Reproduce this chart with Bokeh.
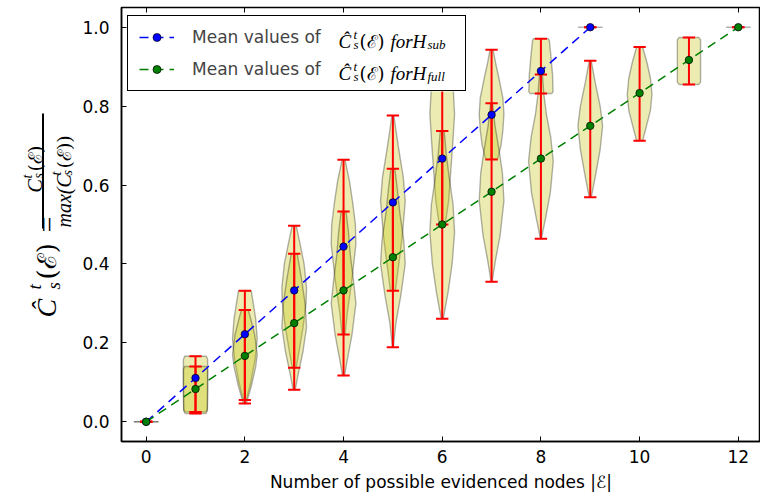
import numpy as np
from bokeh.plotting import figure
from bokeh.layouts import row
from bokeh.models import (Range1d, FixedTicker, LinearAxis, Legend, LegendItem,
                          Label, BoxAnnotation, NumeralTickFormatter)
from bokeh.embed import file_html
from bokeh.resources import INLINE

# ---------------- data ----------------
sub_x = [0, 1, 2, 3, 4, 5, 6, 7, 8, 9]
sub_mean = [0.0, 0.111, 0.222, 0.333, 0.444, 0.556, 0.667, 0.778, 0.889, 1.0]
sub_min = [0.0, 0.025, 0.055, 0.137, 0.221, 0.332, 0.500, 0.665, 0.832, 1.0]
sub_max = [0.0, 0.166, 0.332, 0.497, 0.664, 0.776, 0.940, 0.943, 0.971, 1.0]

full_x = [0, 1, 2, 3, 4, 5, 6, 7, 8, 9, 10, 11, 12]
full_mean = [0.0, 0.083, 0.167, 0.25, 0.333, 0.417, 0.5, 0.583, 0.667, 0.75, 0.833, 0.917, 1.0]
full_min = [0.0, 0.021, 0.046, 0.081, 0.117, 0.189, 0.261, 0.355, 0.464, 0.569, 0.712, 0.855, 1.0]
full_max = [0.0, 0.140, 0.283, 0.426, 0.533, 0.641, 0.737, 0.807, 0.880, 0.915, 0.950, 0.974, 1.0]

sub_prof_y = [
    [0.0, 0.0],
    [0.025, 0.032, 0.10, 0.158, 0.166],
    [0.055, 0.10, 0.16, 0.21, 0.26, 0.30, 0.332],
    [0.137, 0.18, 0.24, 0.30, 0.34, 0.40, 0.45, 0.497],
    [0.221, 0.28, 0.36, 0.45, 0.50, 0.56, 0.61, 0.664],
    [0.332, 0.40, 0.47, 0.56, 0.62, 0.69, 0.74, 0.776],
    [0.50, 0.56, 0.63, 0.70, 0.78, 0.85, 0.90, 0.94],
    [0.665, 0.70, 0.74, 0.78, 0.82, 0.87, 0.91, 0.943],
    [0.832, 0.837, 0.88, 0.93, 0.966, 0.971],
    [1.0, 1.0],
]
sub_prof_w = [
    [0.25, 0.25],
    [0.21, 0.24, 0.245, 0.245, 0.22],
    [0.03, 0.12, 0.21, 0.25, 0.22, 0.17, 0.13],
    [0.04, 0.10, 0.18, 0.24, 0.25, 0.20, 0.12, 0.04],
    [0.03, 0.08, 0.17, 0.25, 0.24, 0.18, 0.12, 0.03],
    [0.05, 0.12, 0.19, 0.25, 0.21, 0.12, 0.06, 0.02],
    [0.06, 0.13, 0.17, 0.21, 0.25, 0.22, 0.14, 0.04],
    [0.12, 0.19, 0.23, 0.25, 0.23, 0.15, 0.08, 0.03],
    [0.22, 0.245, 0.235, 0.20, 0.17, 0.15],
    [0.25, 0.25],
]
full_prof_y = [
    [0.0, 0.0],
    [0.021, 0.028, 0.08, 0.133, 0.140],
    [0.046, 0.09, 0.14, 0.17, 0.22, 0.26, 0.283],
    [0.081, 0.12, 0.18, 0.24, 0.30, 0.36, 0.426],
    [0.117, 0.16, 0.22, 0.30, 0.36, 0.42, 0.48, 0.533],
    [0.189, 0.25, 0.32, 0.40, 0.46, 0.53, 0.59, 0.641],
    [0.261, 0.33, 0.40, 0.48, 0.55, 0.62, 0.68, 0.737],
    [0.355, 0.41, 0.47, 0.56, 0.63, 0.69, 0.75, 0.807],
    [0.464, 0.52, 0.58, 0.66, 0.72, 0.78, 0.83, 0.88],
    [0.569, 0.62, 0.69, 0.75, 0.80, 0.86, 0.915],
    [0.712, 0.75, 0.79, 0.83, 0.87, 0.91, 0.95],
    [0.855, 0.861, 0.968, 0.974],
    [1.0, 1.0],
]
full_prof_w = [
    [0.25, 0.25],
    [0.21, 0.24, 0.245, 0.245, 0.22],
    [0.03, 0.13, 0.22, 0.25, 0.20, 0.12, 0.07],
    [0.02, 0.08, 0.18, 0.25, 0.22, 0.15, 0.06],
    [0.02, 0.08, 0.17, 0.25, 0.20, 0.14, 0.10, 0.05],
    [0.01, 0.06, 0.16, 0.25, 0.22, 0.14, 0.09, 0.04],
    [0.02, 0.12, 0.20, 0.25, 0.22, 0.14, 0.08, 0.04],
    [0.01, 0.08, 0.17, 0.25, 0.22, 0.15, 0.07, 0.02],
    [0.01, 0.10, 0.19, 0.25, 0.20, 0.11, 0.06, 0.03],
    [0.02, 0.10, 0.20, 0.25, 0.20, 0.10, 0.02],
    [0.06, 0.14, 0.22, 0.25, 0.22, 0.15, 0.06],
    [0.20, 0.235, 0.235, 0.20],
    [0.25, 0.25],
]

x_ticks = [0, 2, 4, 6, 8, 10, 12]
y_ticks = [0.0, 0.2, 0.4, 0.6, 0.8, 1.0]
legend_text = "Mean values of"
legend_subs = ["sub", "full"]
x_title = "Number of possible evidenced nodes |ℰ|"

# ---------------- layout geometry (page pixels) ----------------
TW = 78                                   # width of the y-title strip
FL, FR, FT, FB = 121, 760, 7, 441         # frame edges
X_LO, X_HI = -0.5, 12.45
Y_LO, Y_HI = -0.05, 1.05

p = figure(width=760 - TW, height=499, x_range=Range1d(X_LO, X_HI), y_range=Range1d(Y_LO, Y_HI),
           output_backend="svg", toolbar_location=None,
           min_border_left=FL - TW, min_border_right=0, min_border_top=FT, min_border_bottom=499 - FB)
p.xgrid.visible = False
p.ygrid.visible = False
p.outline_line_color = "black"
p.outline_line_width = 1.5
p.background_fill_color = "white"

def dx(px):
    return X_LO + (px - FL) * (X_HI - X_LO) / (FR - FL)

def dy(py):
    return Y_LO + (FB - py) * (Y_HI - Y_LO) / (FB - FT)

for ax in (p.xaxis[0], p.yaxis[0]):
    ax.major_tick_in = 5
    ax.major_tick_out = 0
    ax.minor_tick_line_color = None
    ax.major_tick_line_color = "black"
    ax.major_tick_line_width = 1
    ax.axis_line_width = 1.5
    ax.axis_line_color = "black"
    ax.major_label_text_font = "DejaVu Sans"
    ax.major_label_text_font_size = "17px"
    ax.major_label_text_color = "black"
p.xaxis.ticker = FixedTicker(ticks=x_ticks)
p.yaxis.ticker = FixedTicker(ticks=y_ticks)
p.yaxis.formatter = NumeralTickFormatter(format="0.0")
p.xaxis.major_label_standoff = 8
p.yaxis.major_label_standoff = 12
p.xaxis.axis_label = x_title
p.xaxis.axis_label_text_font = "DejaVu Sans"
p.xaxis.axis_label_text_font_size = "17px"
p.xaxis.axis_label_text_font_style = "normal"
p.xaxis.axis_label_text_color = "black"
p.xaxis.axis_label_standoff = 6

top_ax = LinearAxis(ticker=FixedTicker(ticks=x_ticks), major_tick_in=5, major_tick_out=0,
                    minor_tick_line_color=None, axis_line_color=None,
                    major_label_standoff=0, major_label_text_font_size="0px",
                    major_label_overrides={t: "" for t in x_ticks})
p.add_layout(top_ax, "above")

def outline(x, ys, ws):
    xs = [x + w for w in ws] + [x - w for w in reversed(ws)]
    yy = list(ys) + list(reversed(ys))
    return xs, yy

vx, vy = [], []
for x, ys, ws in zip(sub_x, sub_prof_y, sub_prof_w):
    a, b = outline(x, ys, ws)
    vx.append(a); vy.append(b)
for x, ys, ws in zip(full_x, full_prof_y, full_prof_w):
    a, b = outline(x, ys, ws)
    vx.append(a); vy.append(b)
p.patches(xs=vx, ys=vy, fill_color="#bfbf00", fill_alpha=0.3,
          line_color="black", line_alpha=0.3, line_width=1.4)

all_x = np.array(sub_x + full_x, dtype=float)
all_min = np.array(sub_min + full_min)
all_max = np.array(sub_max + full_max)
p.segment(x0=all_x, y0=all_min, x1=all_x, y1=all_max, line_color="red", line_width=2)
p.segment(x0=all_x - 0.125, y0=all_min, x1=all_x + 0.125, y1=all_min, line_color="red", line_width=2)
p.segment(x0=all_x - 0.125, y0=all_max, x1=all_x + 0.125, y1=all_max, line_color="red", line_width=2)

sub_line = p.line(sub_x, sub_mean, line_color="blue", line_dash="9 6", line_width=1.5)
full_line = p.line(full_x, full_mean, line_color="green", line_dash="9 6", line_width=1.5)
sub_pts = p.scatter(sub_x, sub_mean, size=7.5, fill_color="blue", line_color="black", line_width=0.7)
full_pts = p.scatter(full_x, full_mean, size=7.5, fill_color="green", line_color="black", line_width=0.7)

# white backing for the legend, then its math text, then the (transparent) legend on top
p.add_layout(BoxAnnotation(left=dx(127), right=dx(465), top=dy(17), bottom=dy(91),
                           fill_color="white", fill_alpha=1, line_alpha=0))

def txt(text, px, py, size, style="italic", font="Liberation Serif"):
    p.add_layout(Label(x=dx(px), y=dy(py), text=text, text_font=font,
                       text_font_size=f"{size}px", text_font_style=style, text_color="black",
                       text_align="left", text_baseline="alphabetic"))

for base, subscript in zip((41, 73), legend_subs):
    txt("Ĉ", 338, base, 19)
    txt("t", 353, base - 7, 13)
    txt("s", 353, base + 3, 13)
    txt("(ℰ)", 359, base, 18, style="normal", font="DejaVu Serif")
    txt("for", 390, base, 19)
    txt("H", 412, base, 19)
    txt(subscript, 427, base + 3, 13)

legend = Legend(items=[LegendItem(label=legend_text, renderers=[sub_line, sub_pts]),
                       LegendItem(label=legend_text, renderers=[full_line, full_pts])],
                location=(6, 350), orientation="vertical", padding=11, spacing=12, margin=0,
                glyph_width=35, glyph_height=20, label_height=20, label_width=262, label_standoff=18,
                label_text_font="DejaVu Sans", label_text_font_size="17px",
                border_line_color="black", border_line_width=1.5, border_line_alpha=1,
                background_fill_alpha=0)
p.add_layout(legend)

# ---------------- y-axis title strip (composed math), same vertical frame as the plot ----------------
t = figure(width=TW, height=499, x_range=Range1d(0, TW), y_range=Range1d(Y_LO, Y_HI),
           output_backend="svg", toolbar_location=None, x_axis_type=None, y_axis_type=None,
           min_border_left=0, min_border_right=0, min_border_top=FT, min_border_bottom=499 - FB,
           outline_line_color=None)
t.xgrid.visible = False
t.ygrid.visible = False

R = np.pi / 2
def ttxt(text, px, py, size, style="italic", font="Liberation Serif"):
    t.text(x=[px], y=[dy(py)], text=[text], angle=R, text_font_size=f"{size}px",
           text_font_style=style, text_color="black", text_align="left",
           text_baseline="alphabetic", text_font={"value": font})

ttxt("Ĉ", 46, 317, 28)
ttxt("t", 34, 289, 19)
ttxt("s", 53, 289, 19)
ttxt("(ℰ)", 46, 279, 26, style="normal", font="DejaVu Serif")
ttxt("=", 46, 232, 28, style="normal")
ttxt("C", 34, 192, 20)
ttxt("t", 27, 178, 14)
ttxt("s", 38, 178, 14)
ttxt("(ℰ)", 34, 171, 19, style="normal", font="DejaVu Serif")
ttxt("max(C", 63, 227, 20)
ttxt("t", 56, 175, 14)
ttxt("s", 67, 175, 14)
ttxt("(ℰ))", 63, 168, 19, style="normal", font="DejaVu Serif")
t.segment(x0=[42.5], y0=[dy(228)], x1=[42.5], y1=[dy(113)], line_color="black", line_width=2)

layout = row(t, p, spacing=0)
open("out.html", "w").write(file_html(layout, INLINE))
